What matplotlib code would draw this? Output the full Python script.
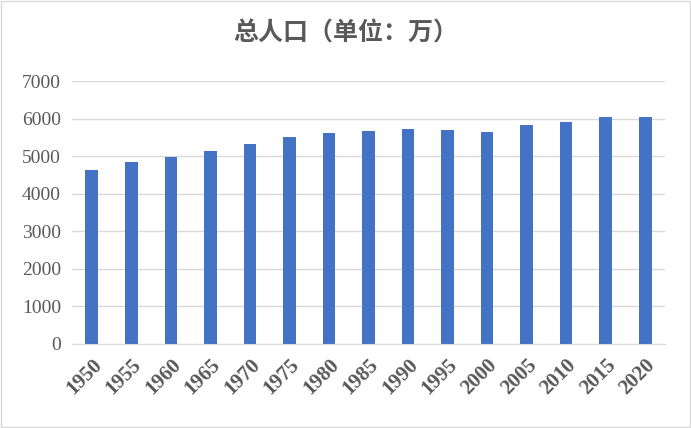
import matplotlib
matplotlib.use("Agg")
import matplotlib.pyplot as plt
from matplotlib.patches import Rectangle

years = ["1950", "1955", "1960", "1965", "1970", "1975", "1980", "1985",
         "1990", "1995", "2000", "2005", "2010", "2015", "2020"]
population = [4630, 4840, 4970, 5130, 5320, 5500, 5610, 5660,
              5720, 5690, 5650, 5820, 5900, 6040, 6040]

fig = plt.figure(figsize=(6.91, 4.28), dpi=100)
ax = fig.add_axes([72 / 691, 1 - 344 / 428, 593 / 691, 263 / 428])

x = range(len(years))
ax.bar(x, population, width=0.32, color="#4472C4", zorder=2)
ax.set_xlim(-0.5, len(years) - 0.5)
ax.set_ylim(0, 7000)
ax.set_yticks(range(0, 7001, 1000))
ax.grid(axis="y", color="#D9D9D9", linewidth=1, zorder=0)
ax.set_xticks(list(x))
ax.set_xticklabels(years, rotation=45, ha="right", rotation_mode="anchor")
for lbl in ax.get_xticklabels() + ax.get_yticklabels():
    lbl.set_family("Liberation Serif")
    lbl.set_fontsize(14)
    lbl.set_color("#595959")
for lbl in ax.get_xticklabels():
    lbl.set_fontweight("bold")
    lbl.set_fontsize(15)
ax.tick_params(length=0, pad=8)
for s in ["top", "left", "right"]:
    ax.spines[s].set_visible(False)
ax.spines["bottom"].set_color("#D9D9D9")

fig.text(0.5, 1 - 33 / 428, "总人口（单位：万）", ha="center", va="center",
         fontsize=18, fontweight="bold", color="#595959",
         family=["Noto Sans CJK SC", "DejaVu Sans"])
fig.patches.append(Rectangle((0.001, 0.002), 0.997, 0.996, transform=fig.transFigure,
                             fill=False, edgecolor="#D9D9D9", linewidth=1))
fig.savefig("out.png", dpi=100)
